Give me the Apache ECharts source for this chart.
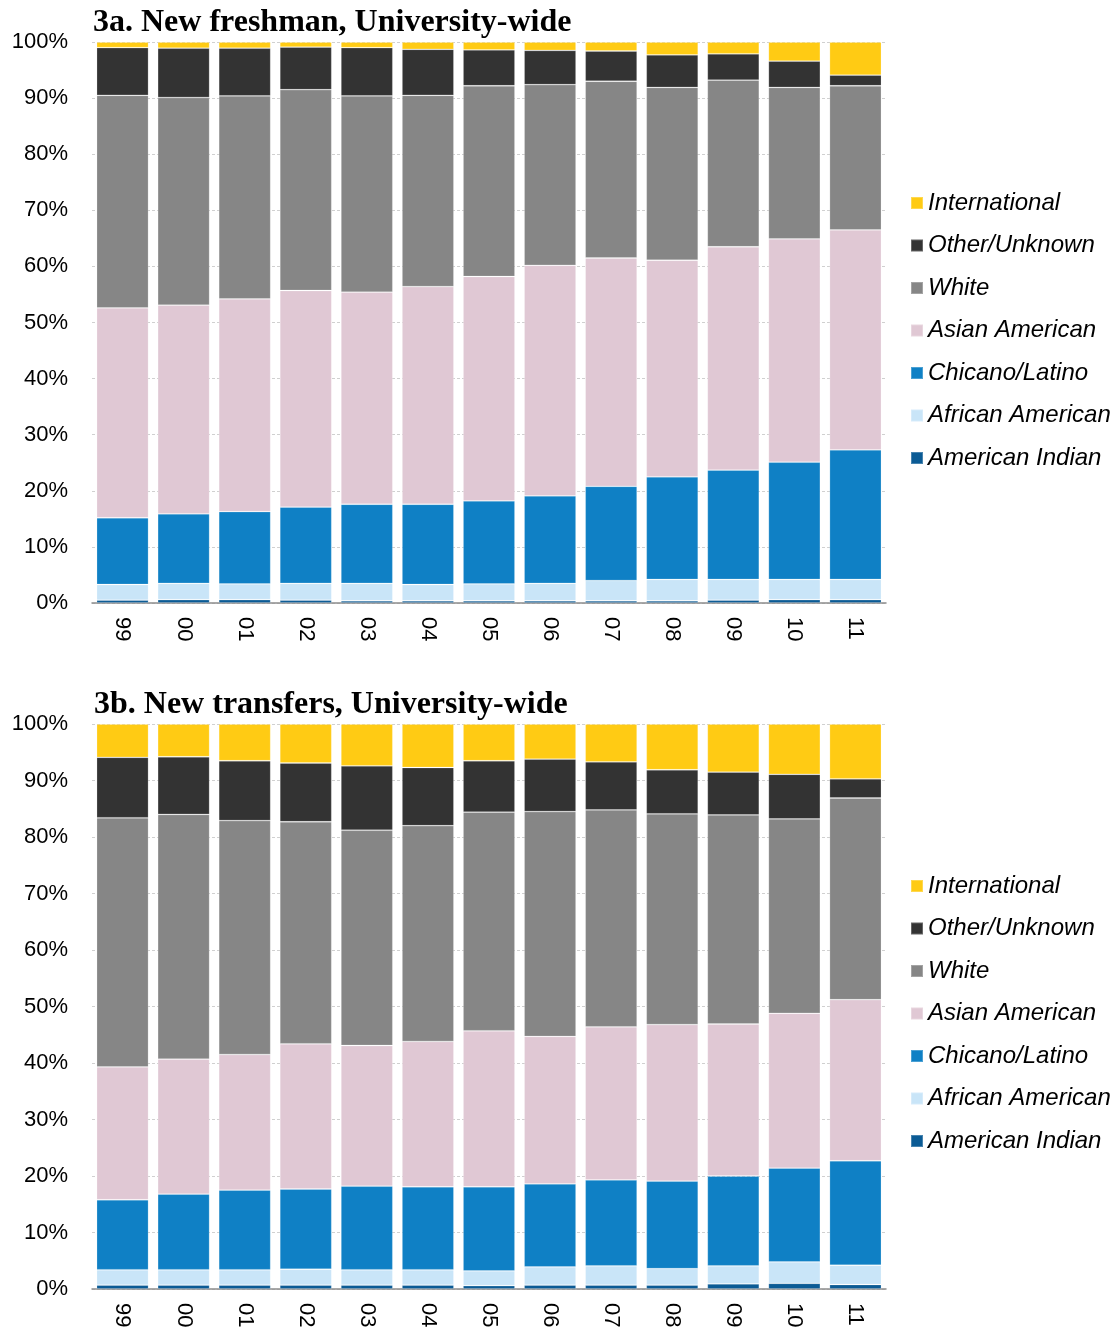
<!DOCTYPE html>
<html>
<head>
<meta charset="utf-8">
<script src="https://cdn.jsdelivr.net/npm/echarts@6/dist/echarts.min.js"></script>
<style>
  html, body { margin: 0; padding: 0; background: #fff; }
  #main { width: 1120px; height: 1334px; }
</style>
</head>
<body>
<div id="main"></div>
<script>
// years (fall terms 1999-2011)
var years = ["99", "00", "01", "02", "03", "04", "05", "06", "07", "08", "09", "10", "11"];
var groups = ["International", "Other/Unknown", "White", "Asian American", "Chicano/Latino", "African American", "American Indian"];
var colors = {
  "International": "#ffcb14",
  "Other/Unknown": "#333333",
  "White": "#868686",
  "Asian American": "#e0c8d4",
  "Chicano/Latino": "#0f80c5",
  "African American": "#c9e5f8",
  "American Indian": "#0b5b95"
};

// 3a. new freshman (% of class)
var frAmInd   = [0.5, 0.6, 0.6, 0.5, 0.4, 0.4, 0.4, 0.4, 0.4, 0.4, 0.5, 0.6, 0.6];
var frAfAm    = [2.8, 2.9, 2.8, 3.0, 3.1, 2.9, 3.0, 3.1, 3.6, 3.8, 3.7, 3.6, 3.6];
var frChicano = [11.9, 12.4, 12.9, 13.6, 14.1, 14.3, 14.8, 15.6, 16.8, 18.3, 19.5, 20.9, 23.1];
var frAsian   = [37.4, 37.2, 37.9, 38.6, 37.8, 38.8, 40.0, 41.1, 40.7, 38.6, 39.8, 39.8, 39.2];
var frWhite   = [37.9, 37.0, 36.2, 35.8, 35.0, 34.1, 34.0, 32.2, 31.5, 30.8, 29.7, 27.0, 25.7];
var frOther   = [8.5, 8.8, 8.5, 7.6, 8.6, 8.2, 6.4, 6.1, 5.4, 5.8, 4.7, 4.7, 1.9];
var frIntl    = [1.0, 1.1, 1.1, 0.9, 1.0, 1.3, 1.4, 1.5, 1.6, 2.3, 2.1, 3.4, 5.9];

// 3b. new transfers (% of class)
var trAmInd   = [0.7, 0.7, 0.7, 0.7, 0.7, 0.7, 0.6, 0.7, 0.7, 0.7, 0.9, 1.0, 0.8];
var trAfAm    = [2.7, 2.7, 2.7, 2.8, 2.7, 2.7, 2.6, 3.2, 3.4, 2.9, 3.2, 3.8, 3.4];
var trChicano = [12.4, 13.4, 14.1, 14.2, 14.8, 14.7, 14.9, 14.7, 15.2, 15.5, 15.9, 16.6, 18.5];
var trAsian   = [23.5, 23.9, 24.0, 25.7, 24.9, 25.7, 27.6, 26.1, 27.1, 27.7, 26.9, 27.4, 28.5];
var trWhite   = [44.1, 43.3, 41.4, 39.3, 38.1, 38.2, 38.7, 39.8, 38.4, 37.3, 37.0, 34.4, 35.7];
var trOther   = [10.7, 10.2, 10.6, 10.4, 11.4, 10.3, 9.1, 9.3, 8.5, 7.8, 7.6, 7.9, 3.4];
var trIntl    = [5.9, 5.8, 6.5, 6.9, 7.4, 7.7, 6.5, 6.2, 6.7, 8.1, 8.5, 8.9, 9.7];

var yTicks = [0, 10, 20, 30, 40, 50, 60, 70, 80, 90, 100];

var fresh = {
  "American Indian": frAmInd, "African American": frAfAm, "Chicano/Latino": frChicano,
  "Asian American": frAsian, "White": frWhite, "Other/Unknown": frOther, "International": frIntl
};
var trans = {
  "American Indian": trAmInd, "African American": trAfAm, "Chicano/Latino": trChicano,
  "Asian American": trAsian, "White": trWhite, "Other/Unknown": trOther, "International": trIntl
};

var myChart = echarts.init(document.getElementById("main"));

function xAxisFor(idx) {
  return {
    type: "category",
    gridIndex: idx,
    data: years,
    axisTick: { show: false },
    axisLine: { lineStyle: { color: "#8c8c8c", width: 1.5 } },
    axisLabel: {
      rotate: -90,
      margin: 14,
      color: "#000",
      fontFamily: "Liberation Sans",
      fontSize: 22
    }
  };
}
function yAxisFor(idx) {
  return {
    type: "value",
    gridIndex: idx,
    min: yTicks[0],
    max: yTicks[yTicks.length - 1],
    interval: 10,
    axisLine: { show: false },
    axisTick: { show: false },
    splitLine: { lineStyle: { color: "#d0d0d0", type: [3, 2] } },
    axisLabel: {
      formatter: "{value}%",
      margin: 24,
      color: "#000",
      fontFamily: "Liberation Sans",
      fontSize: 22
    }
  };
}

// bottom of the stack first
var order = groups.slice().reverse();
var series = [];
[fresh, trans].forEach(function (set, idx) {
  order.forEach(function (g) {
    series.push({
      name: g,
      type: "bar",
      stack: "s" + idx,
      xAxisIndex: idx,
      yAxisIndex: idx,
      barCategoryGap: "15%",
      itemStyle: { color: colors[g], borderColor: "rgba(255,255,255,0.25)", borderWidth: 0.8 },
      emphasis: { disabled: true },
      data: set[g]
    });
  });
});

function legendFor(top) {
  return {
    orient: "vertical",
    left: 905,
    top: top,
    data: groups,
    icon: "rect",
    itemWidth: 12,
    itemHeight: 12,
    itemGap: 18.5,
    textStyle: {
      fontFamily: "Liberation Sans",
      fontStyle: "italic",
      fontSize: 24,
      lineHeight: 24,
      color: "#000"
    }
  };
}

var option = {
  animation: false,
  title: [
    {
      text: "3a. New freshman, University-wide",
      left: 88, top: 2,
      textStyle: { fontFamily: "Liberation Serif", fontWeight: "bold", fontSize: 32, color: "#000" }
    },
    {
      text: "3b. New transfers, University-wide",
      left: 89, top: 684,
      textStyle: { fontFamily: "Liberation Serif", fontWeight: "bold", fontSize: 32, color: "#000" }
    }
  ],
  legend: [legendFor(186), legendFor(869)],
  grid: [
    { left: 92, top: 42, width: 794, height: 561 },
    { left: 92, top: 724, width: 794, height: 565 }
  ],
  xAxis: [xAxisFor(0), xAxisFor(1)],
  yAxis: [yAxisFor(0), yAxisFor(1)],
  series: series
};
myChart.setOption(option);
</script>
</body>
</html>
